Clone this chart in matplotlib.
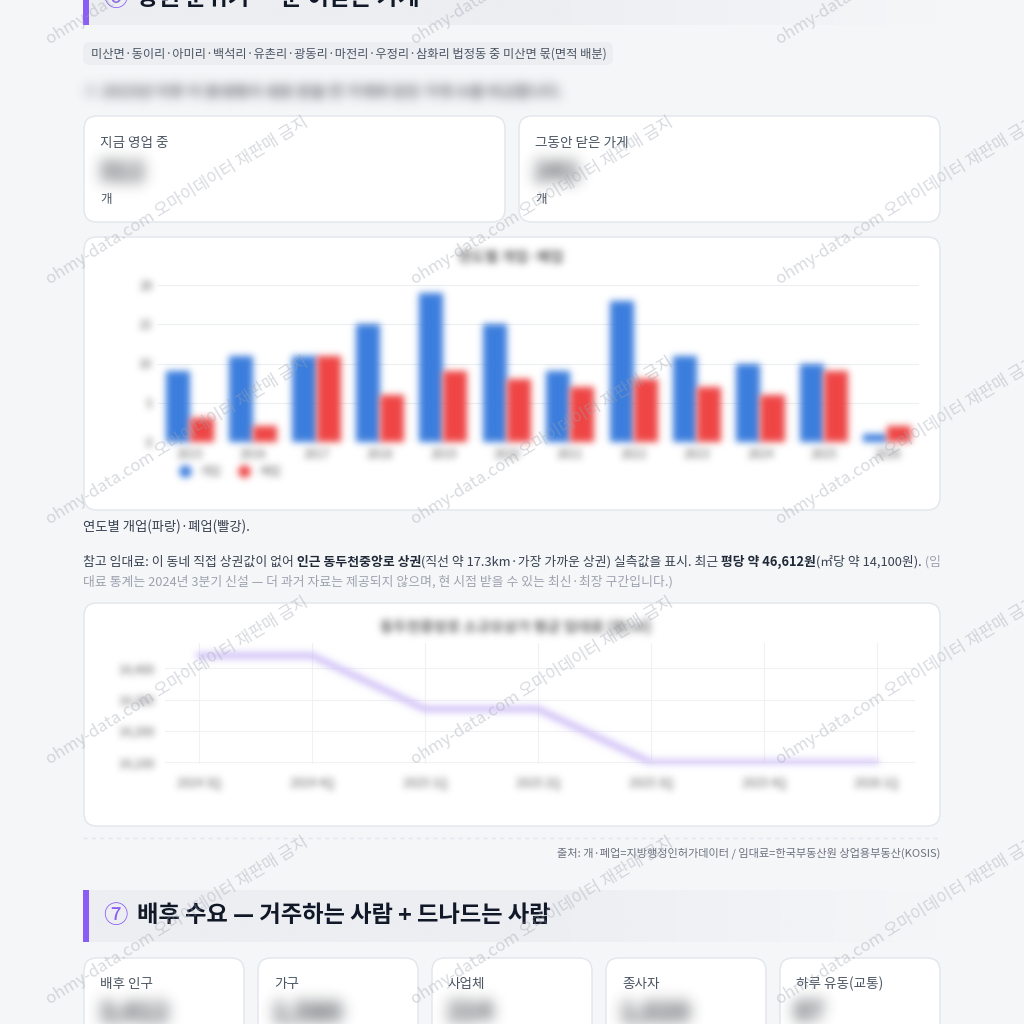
import numpy as np
import matplotlib
matplotlib.use('agg')
import matplotlib.pyplot as plt
from matplotlib.patches import FancyBboxPatch, Rectangle
from matplotlib.lines import Line2D
from matplotlib.colors import to_rgb

plt.rcParams['font.family'] = ['Noto Sans CJK KR', 'DejaVu Sans']

# ---- data ----
years = [str(y) for y in range(2015, 2027)]
opened = [9, 11, 11, 15, 19, 15, 9, 18, 11, 10, 10, 1]
closed = [3, 2, 11, 6, 9, 8, 7, 8, 7, 6, 9, 2]
bar_ticks = [0, 5, 10, 15, 20]

quarters = ['2024 3Q', '2024 4Q', '2025 1Q', '2025 2Q', '2025 3Q', '2025 4Q', '2026 1Q']
rent = [14440, 14440, 14270, 14270, 14100, 14100, 14100]
rent_ticks = [14100, 14200, 14300, 14400]

top_labels = ['지금 영업 중', '그동안 닫은 가게']
top_values = ['312', '241']
demand_labels = ['배후 인구', '가구', '사업체', '종사자', '하루 유동(교통)']
demand_values = ['3,412', '1,580', '214', '1,020', '87']

W = H = 1024
fig = plt.figure(figsize=(10.24, 10.24), dpi=100)
fig.patch.set_facecolor('#f5f6f8')
bg = fig.add_axes([0, 0, 1, 1])
bg.set_xlim(0, W)
bg.set_ylim(H, 0)
bg.axis('off')
renderer = fig.canvas.get_renderer()


def blur(sigma):
    r = int(3 * sigma) + 1
    k = np.exp(-0.5 * (np.arange(-r, r + 1) / sigma) ** 2)
    k /= k.sum()

    def f(im, dpi):
        a = np.array(im, dtype=float)
        a[..., :3] *= a[..., 3:4]
        a = np.pad(a, ((2 * r, 2 * r), (2 * r, 2 * r), (0, 0)))
        h, w = a.shape[:2]
        b = np.zeros((h - 2 * r, w, 4))
        for i, kv in enumerate(k):
            b += kv * a[i:i + h - 2 * r]
        c = np.zeros((h - 2 * r, w - 2 * r, 4))
        for i, kv in enumerate(k):
            c += kv * b[:, i:i + w - 2 * r]
        al = c[..., 3:4]
        rgb = c[..., :3] / np.maximum(al, 1e-6)
        out = np.concatenate([np.clip(rgb, 0, 1), np.clip(al, 0, 1)], axis=2)
        return out, -r, -r
    return f


def px_axes(x0, y0, x1, y1):
    return fig.add_axes([x0 / W, 1 - y1 / H, (x1 - x0) / W, (y1 - y0) / H])


def width_of(s, size, weight='normal'):
    t = bg.text(0, 0, s, fontsize=size, fontweight=weight)
    w = t.get_window_extent(renderer).width
    t.remove()
    return w


def fit(s, width, weight='normal'):
    return 10 * width / width_of(s, 10, weight)


def card(x0, y0, x1, y1, r=13):
    bg.add_patch(FancyBboxPatch((x0, y0), x1 - x0, y1 - y0,
                                boxstyle=f'round,pad=0,rounding_size={r}',
                                fc='white', ec='#e2e5ea', lw=1, zorder=1))


def rich(x, y, pieces, size):
    for s, color, weight in pieces:
        t = bg.text(x, y, s, fontsize=size, color=color, fontweight=weight,
                    va='baseline', ha='left', zorder=3)
        x += t.get_window_extent(renderer).width
    return x


def heading(y0, y1, num, text, size):
    grad = np.ones((1, 300, 4))
    grad[..., :3] = to_rgb('#eceef2')
    grad[0, :, 3] = np.clip((940 - np.linspace(89, 940, 300)) / 420, 0, 1)
    bg.imshow(grad, extent=(89, 940, y1, y0), aspect='auto', interpolation='bilinear', zorder=1)
    bg.add_patch(Rectangle((83, y0), 6, y1 - y0, fc='#8b5cf6', ec='none', zorder=2))
    yc = (y0 + y1) / 2
    bg.text(115, yc, num, color='#8b5cf6', fontsize=size * 1.05, ha='center', va='center', zorder=3)
    bg.text(137, yc, text, fontsize=size, fontweight='bold', color='#111827',
            ha='left', va='center', zorder=3)


# ---- headings ----
h7 = '배후 수요 — 거주하는 사람 + 드나드는 사람'
hsize = fit(h7, 413, 'bold')
heading(-28, 25, '⑥', '상권 분위기 — 문 여닫는 가게', hsize)
heading(890, 942, '⑦', h7, hsize)

# ---- pill ----
pill = '미산면·동이리·아미리·백석리·유촌리·광동리·마전리·우정리·삼화리 법정동 중 미산면 몫(면적 배분)'
bg.add_patch(FancyBboxPatch((83, 42), 530, 23, boxstyle='round,pad=0,rounding_size=7',
                            fc='#eceef2', ec='none', zorder=1))
bg.text(91, 54, pill, fontsize=fit(pill, 514), color='#4b5563', va='center', zorder=3)

# blurred description line
desc = '※ 2015년 이후 이 동네에서 새로 문을 연 가게와 닫은 가게 수를 비교합니다.'
t = bg.text(83, 92, desc, fontsize=fit(desc, 478, 'bold'), fontweight='bold', color='#5a6069',
            va='center', zorder=3)
t.set_agg_filter(blur(5.5))

# ---- top stat cards ----
for (x0, x1), lab, val in zip([(84, 505), (519, 940)], top_labels, top_values):
    card(x0, 116, x1, 222)
    bg.text(x0 + 16, 143, lab, fontsize=9.8, color='#4b5563', va='center', zorder=3)
    t = bg.text(x0 + 14, 172, val, fontsize=19, fontweight='bold', color='#1f242b', va='center', zorder=3)
    t.set_agg_filter(blur(7.5))
    bg.text(x0 + 16, 199, '개', fontsize=9, color='#4b5563', va='center', zorder=3)

# ---- bar chart card ----
card(84, 237, 940, 510)
t = bg.text(511, 257, '연도별 개업·폐업', fontsize=10.5, fontweight='bold', color='#666666',
            ha='center', va='center', zorder=3)
t.set_agg_filter(blur(3.5))

ax1 = px_axes(158, 285, 919, 442)
ax1.set_facecolor('none')
x = np.arange(len(years))
bw = 0.38
b1 = ax1.bar(x - bw / 2, opened, bw, color='#3b7ddd', label='개업')
b2 = ax1.bar(x + bw / 2, closed, bw, color='#ef4444', label='폐업')
for p in list(b1) + list(b2):
    p.set_agg_filter(blur(3.5))
ax1.set_xlim(-0.5, len(years) - 0.5)
ax1.set_ylim(0, 20)
ax1.set_yticks(bar_ticks)
ax1.set_xticks(x, years)
ax1.yaxis.grid(True, color='#eceef1', lw=0.8)
ax1.set_axisbelow(True)
for s in ax1.spines.values():
    s.set_visible(False)
ax1.tick_params(length=0, labelsize=8.5, labelcolor='#555555')
ax1.tick_params(axis='y', pad=4)
ax1.tick_params(axis='x', pad=4)
for tk in ax1.xaxis.get_major_ticks() + ax1.yaxis.get_major_ticks():
    tk.label1.set_agg_filter(blur(3.5))
handles = [Line2D([], [], marker='o', ls='none', color='#3b7ddd', markersize=8),
           Line2D([], [], marker='o', ls='none', color='#ef4444', markersize=8)]
leg = ax1.legend(handles, ['개업', '폐업'], loc='center left', bbox_to_anchor=(168, 472),
                 bbox_transform=bg.transData, ncol=2, frameon=False, fontsize=8.5,
                 handlelength=1, handletextpad=0.8, columnspacing=1.4, labelcolor='#666666')
leg.set_agg_filter(blur(3.5))

bg.text(83, 527, '연도별 개업(파랑)·폐업(빨강).', fontsize=9.6, color='#374151', va='center', zorder=3)

# ---- rent paragraph ----
dark, bold_c, grey = '#374151', '#1f2937', '#9ca3af'
line1 = [('참고 임대료: 이 동네 직접 상권값이 없어', dark, 'normal'),
         (' 인근 동두천중앙로 상권', bold_c, 'bold'),
         ('(직선 약 17.3km·가장 가까운 상권) 실측값을 표시. 최근', dark, 'normal'),
         (' 평당 약 46,612원', bold_c, 'bold'),
         ('(㎡당 약 14,100원).', dark, 'normal'),
         (' (임', grey, 'normal')]
w10 = sum(width_of(s, 10, wt) for s, c, wt in line1)
psize = 10 * 855 / w10
rich(83, 566, line1, psize)
rich(83, 586, [('대료 통계는 2024년 3분기 신설 — 더 과거 자료는 제공되지 않으며, 현 시점 받을 수 있는 최신·최장 구간입니다.)',
                grey, 'normal')], psize)

# ---- line chart card ----
card(84, 603, 940, 826)
t = bg.text(516, 627, '동두천중앙로 소규모상가 평균 임대료 (원/㎡)', fontsize=10.5, fontweight='bold',
            color='#666666', ha='center', va='center', zorder=3)
t.set_agg_filter(blur(3.5))

ax2 = px_axes(165, 643, 915, 764)
ax2.set_facecolor('none')
ln, = ax2.plot(range(len(quarters)), rent, color='#cdbdf7', lw=4.5, solid_capstyle='round')
ln.set_agg_filter(blur(3.5))
ax2.set_xlim(-0.3, len(quarters) - 1 + 0.34)
ax2.set_ylim(14095, 14480)
ax2.set_yticks(rent_ticks, [f'{v:,}' for v in rent_ticks])
ax2.set_xticks(range(len(quarters)), quarters)
ax2.grid(True, color='#f0f1f3', lw=0.8)
ax2.set_axisbelow(True)
for s in ax2.spines.values():
    s.set_visible(False)
ax2.tick_params(length=0, labelsize=8.5, labelcolor='#555555')
ax2.tick_params(axis='y', pad=7)
ax2.tick_params(axis='x', pad=9)
for tk in ax2.xaxis.get_major_ticks() + ax2.yaxis.get_major_ticks():
    tk.label1.set_agg_filter(blur(3.5))

# ---- source ----
bg.plot([83, 940], [838, 838], color='#e3e6ea', lw=1, ls=(0, (3, 3)), zorder=2)
src = '출처: 개·폐업=지방행정인허가데이터 / 임대료=한국부동산원 상업용부동산(KOSIS)'
bg.text(940, 853, src, fontsize=fit(src, 384), color='#6b7280', ha='right', va='center', zorder=3)

# ---- demand cards ----
for i, (lab, val) in enumerate(zip(demand_labels, demand_values)):
    x0 = 84 + i * 174
    card(x0, 958, x0 + 160, 1060)
    bg.text(x0 + 16, 984, lab, fontsize=9.8, color='#4b5563', va='center', zorder=3)
    t = bg.text(x0 + 14, 1013, val, fontsize=19, fontweight='bold', color='#1f242b', va='center', zorder=3)
    t.set_agg_filter(blur(7.5))

# ---- watermarks ----
for wy in [45, 285, 525, 765, 1005]:
    for wx in [50, 415, 780]:
        fig.text(wx, wy, 'ohmy-data.com 오마이데이터 재판매 금지', transform=bg.transData,
                 rotation=31.6, rotation_mode='anchor', ha='left', va='baseline',
                 fontsize=12, color='#9ca3af', alpha=0.4, zorder=10)

bg.set_xlim(0, W)
bg.set_ylim(H, 0)
fig.savefig('out.png', dpi=100, facecolor=fig.get_facecolor())
